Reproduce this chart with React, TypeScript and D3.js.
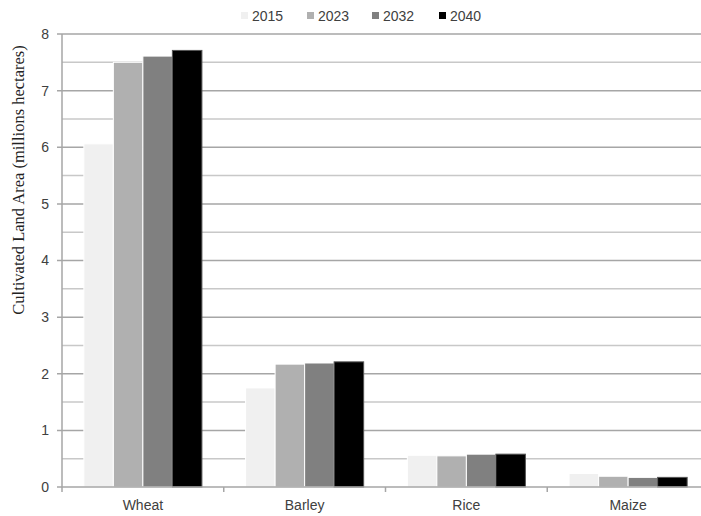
import { useEffect, useRef } from "react";
import * as d3 from "d3";

const crops = ["Wheat", "Barley", "Rice", "Maize"];
const years = ["2015", "2023", "2032", "2040"];
const values2015 = [6.06, 1.75, 0.56, 0.24];
const values2023 = [7.5, 2.17, 0.55, 0.19];
const values2032 = [7.61, 2.19, 0.58, 0.17];
const values2040 = [7.71, 2.21, 0.58, 0.17];
const yearColors = ["#f0f0f0", "#b0b0b0", "#808080", "#000000"];
const yTicks = [0, 1, 2, 3, 4, 5, 6, 7, 8];

const App = () => {
  const ref = useRef<SVGSVGElement | null>(null);

  useEffect(() => {
    const svg = d3.select(ref.current);
    svg.selectAll("*").remove();

    const left = 62, right = 709, top = 34, bottom = 487;
    const series = [values2015, values2023, values2032, values2040];

    const x = d3.scaleBand().domain(crops).range([left, right]).padding(0);
    const xi = d3
      .scaleBand()
      .domain(years)
      .range([0, x.bandwidth()])
      .paddingInner(0)
      .paddingOuter(0.74);
    const y = d3.scaleLinear().domain([0, 8]).range([bottom, top]);

    // grid lines (every 0.5, integers darker)
    const grid = d3.range(0.5, 8.01, 0.5);
    svg
      .append("g")
      .selectAll("line")
      .data(grid)
      .enter()
      .append("line")
      .attr("x1", (d) => (Number.isInteger(d) ? left - 5 : left))
      .attr("x2", 701)
      .attr("y1", (d) => y(d))
      .attr("y2", (d) => y(d))
      .attr("stroke", (d) => (Number.isInteger(d) ? "#a6a6a6" : "#c8c8c8"))
      .attr("stroke-width", 1.5);

    // bars
    const groups = svg
      .append("g")
      .selectAll("g")
      .data(crops)
      .enter()
      .append("g")
      .attr("transform", (d) => "translate(" + x(d) + ",0)");

    groups
      .selectAll("rect")
      .data((_, i) => years.map((yr, j) => ({ yr, j, v: series[j][i] })))
      .enter()
      .append("rect")
      .attr("x", (d) => xi(d.yr) as number)
      .attr("width", xi.bandwidth())
      .attr("y", (d) => y(d.v))
      .attr("height", (d) => y(0) - y(d.v))
      .attr("fill", (d) => yearColors[d.j])
      .attr("stroke", (d) => (d.j === 3 ? "#555" : "#fff"))
      .attr("stroke-width", 1);

    // y axis line
    svg
      .append("line")
      .attr("x1", left)
      .attr("x2", left)
      .attr("y1", top)
      .attr("y2", bottom)
      .attr("stroke", "#a6a6a6")
      .attr("stroke-width", 1.5);

    // x axis line + ticks
    svg
      .append("line")
      .attr("x1", left - 5)
      .attr("x2", 701)
      .attr("y1", bottom)
      .attr("y2", bottom)
      .attr("stroke", "#a6a6a6")
      .attr("stroke-width", 1.5);

    svg
      .append("g")
      .selectAll("line")
      .data(crops)
      .enter()
      .append("line")
      .attr("x1", (d) => x(d) as number)
      .attr("x2", (d) => x(d) as number)
      .attr("y1", bottom)
      .attr("y2", bottom + 5)
      .attr("stroke", "#a6a6a6")
      .attr("stroke-width", 1.5);

    // y tick labels
    svg
      .append("g")
      .selectAll("text")
      .data(yTicks)
      .enter()
      .append("text")
      .attr("x", 49)
      .attr("y", (d) => y(d))
      .attr("dy", "0.35em")
      .attr("text-anchor", "end")
      .attr("fill", "#404040")
      .style("font", "14px 'Liberation Sans', sans-serif")
      .text((d) => d);

    // category labels
    svg
      .append("g")
      .selectAll("text")
      .data(crops)
      .enter()
      .append("text")
      .attr("x", (d) => (x(d) as number) + xi.bandwidth() * 2 + (xi(years[0]) as number))
      .attr("y", 510)
      .attr("text-anchor", "middle")
      .attr("fill", "#404040")
      .style("font", "14px 'Liberation Sans', sans-serif")
      .text((d) => d);

    // y axis title
    svg
      .append("text")
      .attr("transform", "translate(24,180) rotate(-90)")
      .attr("text-anchor", "middle")
      .attr("fill", "#222")
      .style("font", "16.5px 'Liberation Serif', serif")
      .text("Cultivated Land Area (millions hectares)");

    // legend
    const legendX = [241, 307, 372, 439];
    const legend = svg
      .append("g")
      .selectAll("g")
      .data(years)
      .enter()
      .append("g")
      .attr("transform", (_, i) => "translate(" + legendX[i] + ",16)");
    legend
      .append("rect")
      .attr("x", 0)
      .attr("y", -4)
      .attr("width", 7)
      .attr("height", 7)
      .attr("fill", (_, i) => yearColors[i]);
    legend
      .append("text")
      .attr("x", 11)
      .attr("y", 0)
      .attr("dy", "0.35em")
      .attr("fill", "#404040")
      .style("font", "14px 'Liberation Sans', sans-serif")
      .text((d) => d);
  }, []);

  return (
    <svg
      ref={ref}
      width={701}
      height={516}
      style={{ position: "absolute", left: 0, top: 0, background: "#fff" }}
    />
  );
};

export default App;
